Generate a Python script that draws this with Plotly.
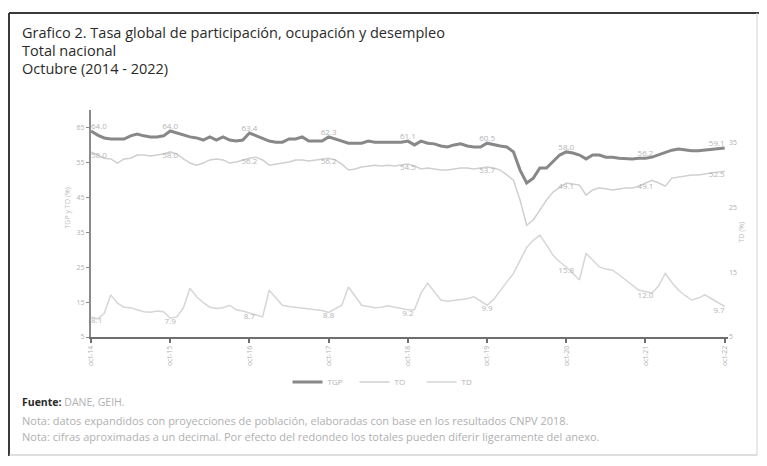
import plotly.graph_objects as go

# mensual, octubre 2014 - octubre 2022
meses = ["ene", "feb", "mar", "abr", "may", "jun", "jul", "ago", "sep", "oct", "nov", "dic"]
periodos = []
for i in range(97):
    m = (9 + i) % 12
    a = 14 + (9 + i) // 12
    periodos.append(f"{meses[m]}-{a}")

tgp = [64.0, 62.8, 62.0, 61.7, 61.7, 61.7, 62.6, 63.1, 62.6, 62.3, 62.3, 62.6,
       64.0, 63.4, 62.8, 62.3, 62.0, 61.4, 62.3, 61.4, 62.3, 61.4, 61.1, 61.4,
       63.4, 62.6, 62.0, 61.1, 60.8, 60.8, 61.7, 61.7, 62.3, 61.1, 61.1, 61.1,
       62.3, 61.7, 61.1, 60.5, 60.5, 60.5, 61.1, 60.8, 60.8, 60.8, 60.8, 60.8,
       61.1, 60.0, 61.1, 60.5, 60.3, 59.7, 59.4, 60.0, 60.3, 59.7, 59.4, 59.4,
       60.5, 60.0, 59.7, 59.4, 58.0, 52.8, 49.1, 50.5, 53.4, 53.4, 55.4, 57.1,
       58.0, 57.7, 57.1, 56.0, 57.1, 57.1, 56.5, 56.5, 56.2, 56.0, 56.0, 56.2,
       56.2, 56.5, 57.1, 57.7, 58.5, 58.8, 58.5, 58.3, 58.3, 58.5, 58.5, 58.8,
       59.1]

to = [58.0, 57.1, 56.2, 56.0, 54.8, 56.0, 56.2, 57.1, 57.1, 56.8, 57.1, 57.4,
      58.0, 57.4, 56.0, 54.8, 54.2, 54.8, 55.7, 56.0, 55.7, 54.8, 55.1, 55.7,
      56.2, 56.5, 55.7, 54.2, 54.5, 54.8, 55.1, 55.7, 55.7, 55.4, 55.7, 56.0,
      56.2, 55.7, 54.5, 52.8, 53.1, 53.7, 54.0, 54.2, 54.0, 54.2, 54.0, 54.2,
      54.5, 54.0, 53.1, 53.4, 53.1, 52.8, 52.8, 53.1, 53.4, 53.4, 53.1, 53.4,
      53.7, 53.4, 52.8, 51.4, 49.9, 44.2, 37.0, 38.5, 41.3, 44.2, 46.5, 47.9,
      49.1, 48.8, 48.5, 45.6, 47.1, 47.7, 47.4, 47.1, 47.4, 47.7, 47.7, 48.2,
      49.1, 49.9, 49.1, 48.2, 50.5, 50.8, 51.1, 51.4, 51.4, 51.7, 51.9, 52.2,
      52.5]

td = [8.1, 7.8, 8.6, 11.5, 10.2, 9.6, 9.5, 9.2, 8.9, 8.8, 9.0, 8.9,
      7.9, 8.1, 9.5, 12.5, 11.2, 10.3, 9.6, 9.4, 9.5, 9.9, 9.2, 9.0,
      8.7, 8.4, 8.1, 12.2, 11.0, 9.9, 9.7, 9.6, 9.5, 9.4, 9.2, 9.1,
      8.8, 9.3, 9.9, 12.7, 11.3, 9.9, 9.7, 9.5, 9.6, 9.8, 9.6, 9.4,
      9.2, 9.2, 11.8, 13.3, 12.0, 10.7, 10.5, 10.6, 10.7, 10.9, 11.2, 10.6,
      9.9, 10.8, 12.2, 13.5, 14.8, 16.8, 18.8, 19.9, 20.7, 19.2, 17.6, 16.6,
      15.8, 14.8, 13.8, 17.9, 16.8, 15.8, 15.5, 15.3, 14.6, 13.8, 13.0, 12.2,
      12.0, 11.8, 12.9, 14.8, 13.4, 12.2, 11.4, 10.7, 11.0, 11.5, 10.9, 10.3,
      9.7]

oct_idx = list(range(0, 97, 12))
oct_lbl = [periodos[i] for i in oct_idx]

# the page has an 8px body margin, so work in page pixels and shift
OFF = 8
W, H = 767 - OFF, 466 - OFF
L, R, T, B = 91 - OFF, W - (728 - OFF), 110 - OFF, H - (337 - OFF)


def px(x):
    return (x - OFF - L) / (W - L - R)


def py(y):
    return (H - B - (y - OFF)) / (H - T - B)


def pos(n, mid, first, last):
    p = [mid] * n
    p[0] = first
    p[-1] = last
    return p


x = list(range(97))
fig = go.Figure()
fig.add_trace(go.Scatter(x=x, y=tgp, name="TGP", mode="lines",
                         line=dict(color="#888888", width=3)))
fig.add_trace(go.Scatter(x=x, y=to, name="TO", mode="lines",
                         line=dict(color="#cfcfcf", width=1.5)))
fig.add_trace(go.Scatter(x=x, y=td, name="TD", mode="lines", yaxis="y2",
                         line=dict(color="#d6d6d6", width=1.5)))

lbl_font = dict(size=8, color="#b4b4b4", family="Open Sans")
n = len(oct_idx)
fig.add_trace(go.Scatter(x=oct_idx, y=[tgp[i] for i in oct_idx], mode="text",
                         text=[f"{tgp[i]:.1f}" for i in oct_idx],
                         textposition=pos(n, "top center", "top right", "top left"),
                         textfont=lbl_font, showlegend=False, cliponaxis=False))
fig.add_trace(go.Scatter(x=oct_idx, y=[to[i] for i in oct_idx], mode="text",
                         text=[f"{to[i]:.1f}" for i in oct_idx],
                         textposition=pos(n, "bottom center", "bottom right", "bottom left"),
                         textfont=lbl_font, showlegend=False, cliponaxis=False))
fig.add_trace(go.Scatter(x=oct_idx, y=[td[i] for i in oct_idx], mode="text", yaxis="y2",
                         text=[f"{td[i]:.1f}" for i in oct_idx],
                         textposition=pos(n, "bottom center", "bottom right", "bottom left"),
                         textfont=lbl_font, showlegend=False, cliponaxis=False))

tick_font = dict(size=7, color="#b0b0b0", family="Open Sans")
fig.update_layout(
    width=W, height=H,
    margin=dict(l=L, r=R, t=T, b=B, autoexpand=False),
    paper_bgcolor="white", plot_bgcolor="white",
    font=dict(family="Open Sans", color="#333"),
    xaxis=dict(range=[0, 96.5], tickvals=oct_idx, ticktext=oct_lbl, tickangle=-90,
               tickfont=tick_font, showgrid=False, zeroline=False,
               showline=True, linecolor="#6e6e6e", linewidth=2,
               ticks="outside", ticklen=4, tickcolor="#6e6e6e", tickwidth=2),
    yaxis=dict(range=[5, 70], tickvals=[5, 15, 25, 35, 45, 55, 65], tickfont=tick_font,
               showgrid=False, zeroline=False, showline=True, linecolor="#8a8a8a",
               linewidth=2, ticks="outside", ticklen=3, tickcolor="#8a8a8a"),
    yaxis2=dict(range=[5, 40], tickvals=[5, 15, 25, 35], overlaying="y", side="right",
                tickfont=tick_font, showgrid=False, zeroline=False, showline=False),
    legend=dict(orientation="h", x=px(388), xanchor="center", y=py(382), yanchor="middle",
                font=dict(size=8, color="#b4b4b4"), itemwidth=30,
                entrywidth=22, entrywidthmode="pixels"),
)

titulos = ["Grafico 2. Tasa global de participación, ocupación y desempleo",
           "Total nacional", "Octubre (2014 - 2022)"]
for t, yy in zip(titulos, [32, 51, 69]):
    fig.add_annotation(text=t, x=px(20), y=py(yy), xref="paper", yref="paper",
                       xanchor="left", yanchor="middle", showarrow=False,
                       font=dict(size=14.5, color="#2a2a2a"))

fig.add_annotation(text="TGP y TO (%)", x=px(60), y=py(208), xref="paper", yref="paper",
                   textangle=-90, showarrow=False, font=dict(size=7, color="#bdbdbd"))
fig.add_annotation(text="TD (%)", x=px(747), y=py(232), xref="paper", yref="paper",
                   textangle=-90, showarrow=False, font=dict(size=7, color="#bdbdbd"))

fig.add_annotation(text="<b>Fuente:</b> <span style='color:#b0b0b0'>DANE, GEIH.</span>",
                   x=px(20), y=py(402), xref="paper", yref="paper", xanchor="left",
                   yanchor="middle", showarrow=False, font=dict(size=10.5, color="#2a2a2a"))
notas = ["Nota: datos expandidos con proyecciones de población, elaboradas con base en los resultados CNPV 2018.",
         "Nota: cifras aproximadas a un decimal. Por efecto del redondeo los totales pueden diferir ligeramente del anexo."]
for t, yy in zip(notas, [420, 437]):
    fig.add_annotation(text=t, x=px(20), y=py(yy), xref="paper", yref="paper",
                       xanchor="left", yanchor="middle", showarrow=False,
                       font=dict(size=11, color="#b0b0b0"))

# marco
fig.add_shape(type="line", xref="paper", yref="paper", x0=px(9), x1=px(767), y0=py(13), y1=py(13),
              line=dict(color="#3a3a3a", width=2))
fig.add_shape(type="line", xref="paper", yref="paper", x0=px(9), x1=px(9), y0=py(13), y1=py(456),
              line=dict(color="#3a3a3a", width=2))
fig.add_shape(type="line", xref="paper", yref="paper", x0=px(9), x1=px(757), y0=py(455), y1=py(455),
              line=dict(color="#bdbdbd", width=1))
fig.add_shape(type="line", xref="paper", yref="paper", x0=px(757), x1=px(757), y0=py(13), y1=py(455),
              line=dict(color="#d5d5d5", width=1))

fig.write_html("out.html")
